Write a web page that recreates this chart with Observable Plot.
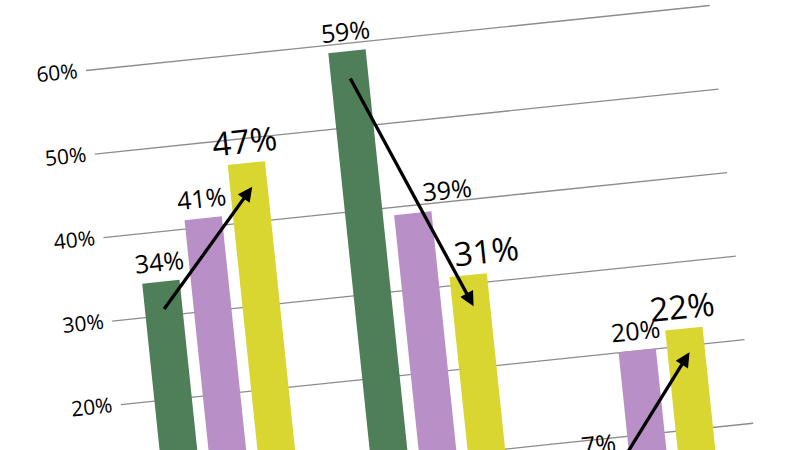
<!DOCTYPE html>
<html>
<head>
<meta charset="utf-8">
<script src="https://cdn.jsdelivr.net/npm/d3@7"></script>
<script src="https://cdn.jsdelivr.net/npm/@observablehq/plot@0.6"></script>
<style>
  html, body { margin: 0; padding: 0; background: #ffffff; }
  #wrap { position: relative; width: 800px; height: 450px; overflow: hidden; background: #ffffff; }
  #wrap svg { position: absolute; left: 26px; top: -34px; transform-origin: 60px 104px; transform: rotate(-5.95deg); overflow: visible; }
</style>
</head>
<body>
<div id="wrap"></div>
<script>
// ---- data ----
const groups = ["Group 1", "Group 2", "Group 3"];
const seriesNames = ["Series 1", "Series 2", "Series 3"];
const series1 = [34, 59, 7];   // green
const series2 = [41, 39, 20];  // purple
const series3 = [47, 31, 22];  // yellow
const gridTicks = [0, 10, 20, 30, 40, 50, 60, 70];
const labelTicks = [10, 20, 30, 40, 50, 60];
const seriesColors = ["#4e7f58", "#b88fc7", "#d9d631"];

// table built from the arrays
const values = [series1, series2, series3];
const data = [];
groups.forEach((g, gi) => {
  seriesNames.forEach((s, si) => {
    data.push({group: g, series: s, value: values[si][gi]});
  });
});
const valueOf = (g, s) => values[seriesNames.indexOf(s)][groups.indexOf(g)];
const isS = (d, i) => d.series === seriesNames[i];
const isG = (d, i) => d.group === groups[i];
const pct = d => d.value + "%";

const font = "'Open Sans', 'Noto Sans', sans-serif";

const chart = Plot.plot({
  width: 707.5,
  height: 618,
  marginLeft: 60,
  marginRight: 20,
  marginTop: 20,
  marginBottom: 10,
  style: {fontFamily: font, fontSize: "21px", color: "#000", background: "transparent"},
  facet: {data, x: "group"},
  fx: {domain: groups, padding: 0, axis: null, label: null},
  x: {domain: seriesNames, axis: null, paddingInner: 0.23, paddingOuter: 0.7625, align: 0.455, round: false},
  y: {domain: [0, 70], label: null},
  color: {domain: seriesNames, range: seriesColors},
  marks: [
    Plot.ruleY(gridTicks, {stroke: "#8c8c8c", strokeWidth: 1.3}),
    Plot.axisY({ticks: labelTicks, tickFormat: d => d + "%", tickSize: 0, tickPadding: 9, fontSize: 21, label: null, fill: "#000"}),
    Plot.barY(data, {x: "series", y: "value", fill: "series"}),
    // ordinary value labels, centred over their bars
    Plot.text(data, {filter: d => !isS(d, 2) && !(isS(d, 1) && isG(d, 1)), x: "series", y: "value", text: pct, dy: -19, fontSize: 25, fill: "#000"}),
    // the middle purple label is pushed right of the arrow
    Plot.text(data, {filter: d => isS(d, 1) && isG(d, 1), x: "series", y: "value", text: pct, dx: 36, dy: -19, fontSize: 25, fill: "#000"}),
    // larger yellow labels
    Plot.text(data, {filter: d => isS(d, 2) && !isG(d, 1), x: "series", y: "value", text: pct, dy: -21, fontSize: 33, fill: "#000"}),
    Plot.text(data, {filter: d => isS(d, 2) && isG(d, 1), x: "series", y: "value", text: pct, dx: 20, dy: -21, fontSize: 33, fill: "#000"}),
    Plot.link(data, {
      filter: d => isS(d, 0),
      x1: "series", y1: "value",
      x2: () => seriesNames[2], y2: d => valueOf(d.group, seriesNames[2]),
      dy: 27, stroke: "#000", strokeWidth: 3.3
    })
  ]
});

// filled triangular arrowheads on the link paths
const ns = "http://www.w3.org/2000/svg";
const defs = document.createElementNS(ns, "defs");
const marker = document.createElementNS(ns, "marker");
marker.setAttribute("id", "arrowhead");
marker.setAttribute("viewBox", "0 0 10 10");
marker.setAttribute("refX", "7");
marker.setAttribute("refY", "5");
marker.setAttribute("markerWidth", "5");
marker.setAttribute("markerHeight", "4.4");
marker.setAttribute("orient", "auto");
marker.setAttribute("markerUnits", "strokeWidth");
const mp = document.createElementNS(ns, "path");
mp.setAttribute("d", "M0,0L10,5L0,10z");
mp.setAttribute("fill", "#000");
marker.appendChild(mp);
defs.appendChild(marker);
chart.insertBefore(defs, chart.firstChild);
chart.querySelectorAll('g[aria-label="link"] path, g[aria-label="link"] line').forEach(p => {
  p.setAttribute("marker-end", "url(#arrowhead)");
});

document.getElementById("wrap").appendChild(chart);
</script>
</body>
</html>
